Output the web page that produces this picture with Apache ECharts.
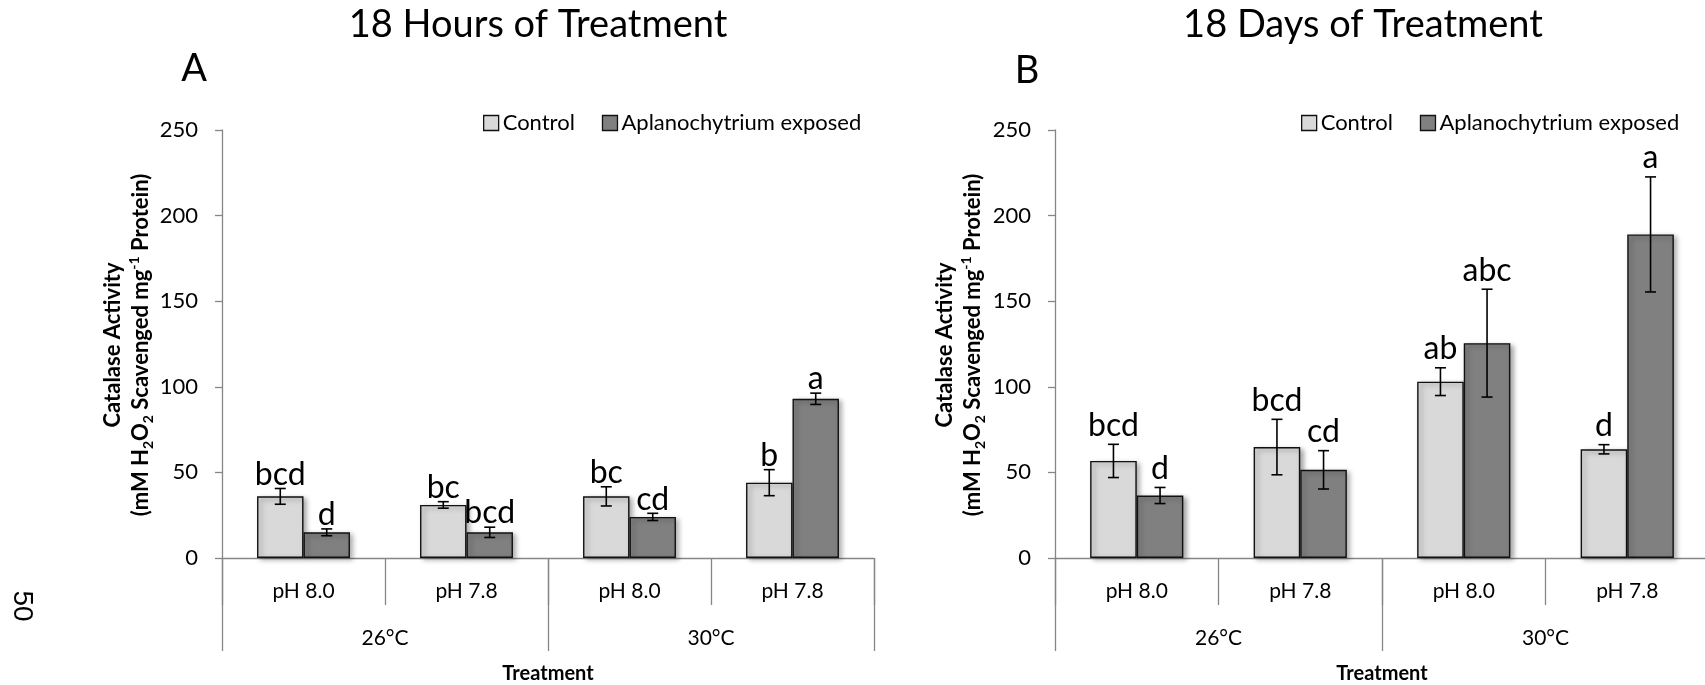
<!DOCTYPE html>
<html>
<head>
<meta charset="utf-8">
<title>Catalase Activity</title>
<script src="https://cdn.jsdelivr.net/npm/echarts@6/dist/echarts.min.js"></script>
<style>
  html, body { margin: 0; padding: 0; background: #fff; }
  #chart { width: 1705px; height: 685px; }
</style>
</head>
<body>
<div id="chart"></div>
<script>
// ---- data ----
const phLabels = ['pH 8.0', 'pH 7.8', 'pH 8.0', 'pH 7.8'];
const tempLabels = ['26°C', '30°C'];
const seriesNames = ['Control', 'Aplanochytrium exposed'];
const yTicks = [0, 50, 100, 150, 200, 250];

// 18 hours of treatment
const hoursControl = [36, 31, 36, 44];
const hoursControlErr = [4.6, 1.9, 5.6, 7.6];
const hoursControlLetters = ['bcd', 'bc', 'bc', 'b'];
const hoursExposed = [15, 15, 24, 93];
const hoursExposedErr = [2, 3, 2.1, 3.3];
const hoursExposedLetters = ['d', 'bcd', 'cd', 'a'];

// 18 days of treatment
const daysControl = [56.7, 64.8, 103, 63.5];
const daysControlErr = [9.7, 16.2, 8.1, 2.7];
const daysControlLetters = ['bcd', 'bcd', 'ab', 'd'];
const daysExposed = [36.5, 51.5, 125.5, 189];
const daysExposedErr = [4.7, 11.2, 31.5, 33.6];
const daysExposedLetters = ['d', 'cd', 'abc', 'a'];

// ---- styling ----
const FONT = 'Lato';
const AXIS_GRAY = '#868686';
const CAT_GAP = 0.43;
const colors = ['#d9d9d9', '#808080'];

const chart = echarts.init(document.getElementById('chart'), null, { renderer: 'canvas' });

const grids = [
  { left: 222, top: 130, width: 652, height: 428, outerBoundsMode: 'none', containLabel: false },
  { left: 1055, top: 130, width: 654, height: 428, outerBoundsMode: 'none', containLabel: false }
];

function phAxis(g) {
  return {
    type: 'category', gridIndex: g, data: phLabels, position: 'bottom',
    axisLine: { show: true, lineStyle: { color: AXIS_GRAY, width: 1.3 } },
    axisTick: { show: true, length: 47, lineStyle: { color: AXIS_GRAY, width: 1.3 } },
    axisLabel: { margin: 23, color: '#000', fontFamily: FONT, fontSize: 21 },
    splitLine: { show: false }
  };
}
function tempAxis(g) {
  return {
    type: 'category', gridIndex: g, data: tempLabels, position: 'bottom',
    axisLine: { show: false },
    axisTick: { show: true, length: 93, lineStyle: { color: AXIS_GRAY, width: 1.3 } },
    axisLabel: { margin: 70, color: '#000', fontFamily: FONT, fontSize: 21 },
    name: 'Treatment', nameLocation: 'middle', nameGap: 106,
    nameTextStyle: { color: '#000', fontFamily: FONT, fontSize: 20, fontWeight: 'bold' },
    splitLine: { show: false }
  };
}
function valAxis(g) {
  return {
    type: 'value', gridIndex: g, min: yTicks[0], max: yTicks[yTicks.length - 1],
    interval: yTicks[1] - yTicks[0],
    axisLine: { show: true, lineStyle: { color: AXIS_GRAY, width: 1.3 } },
    axisTick: { show: true, length: 7, lineStyle: { color: AXIS_GRAY, width: 1.3 } },
    axisLabel: { margin: 24, color: '#000', fontFamily: FONT, fontSize: 22 },
    splitLine: { show: false }
  };
}

function barSeries(g, idx, values) {
  return {
    type: 'bar', name: seriesNames[idx], xAxisIndex: g * 2, yAxisIndex: g,
    data: values, barGap: '0%', barCategoryGap: (CAT_GAP * 100) + '%',
    itemStyle: {
      color: colors[idx], borderColor: '#111', borderWidth: 1.4,
      shadowBlur: 5, shadowColor: 'rgba(0,0,0,0.35)', shadowOffsetX: 3, shadowOffsetY: 2
    },
    z: 2
  };
}

// error bars and significance letters, placed over the matching bar
function errSeries(g, side, values, errs, letters, gap) {
  return {
    type: 'custom', xAxisIndex: g * 2, yAxisIndex: g, silent: true, z: 5,
    data: values.map((v, i) => [i, v, errs[i]]),
    encode: { x: 0, y: 1 },
    renderItem(params, api) {
      const i = api.value(0), m = api.value(1), e = api.value(2);
      const c = api.coord([i, m]);
      const bw = api.size([1, 0])[0] * (1 - CAT_GAP) / 2;
      const x = c[0] + side * bw / 2;
      const yt = api.coord([i, m + e])[1];
      const yb = api.coord([i, m - e])[1];
      const cap = 5.5;
      const ls = { stroke: '#000', lineWidth: 1.6 };
      return {
        type: 'group',
        children: [
          { type: 'line', shape: { x1: x, y1: yt, x2: x, y2: yb }, style: ls },
          { type: 'line', shape: { x1: x - cap, y1: yt, x2: x + cap, y2: yt }, style: ls },
          { type: 'line', shape: { x1: x - cap, y1: yb, x2: x + cap, y2: yb }, style: ls },
          {
            type: 'text', x: x, y: yt - gap,
            style: {
              text: letters[params.dataIndex], fill: '#000',
              font: '32px ' + FONT, align: 'center', verticalAlign: 'bottom'
            }
          }
        ]
      };
    }
  };
}

function legendFor(left) {
  return {
    left: left, top: 107, orient: 'horizontal', data: seriesNames,
    icon: 'rect', itemWidth: 15, itemHeight: 15, itemGap: 27,
    textStyle: { color: '#000', fontFamily: FONT, fontSize: 22, padding: [0, 0, 0, -1] },
    itemStyle: { borderColor: '#111', borderWidth: 1.3, shadowBlur: 0, shadowOffsetX: 0, shadowOffsetY: 0, shadowColor: 'rgba(0,0,0,0)' },
    selectedMode: false
  };
}

const yTitleRich = {
  n: { fontFamily: FONT, fontWeight: 'bold', fontSize: 22, color: '#000', lineHeight: 28 },
  s: { fontFamily: FONT, fontWeight: 'bold', fontSize: 14, color: '#000', verticalAlign: 'bottom', lineHeight: 28 },
  p: { fontFamily: FONT, fontWeight: 'bold', fontSize: 14, color: '#000', verticalAlign: 'top', lineHeight: 28 }
};
const yTitleLine2 = '{n|(mM H}{s|2}{n|O}{s|2}{n| Scavenged mg}{p|-1}{n| Protein)}';

function yTitle(x1, x2, y) {
  return [
    {
      type: 'text', x: x1, y: y, rotation: Math.PI / 2,
      style: { text: 'Catalase Activity', font: 'bold 22px ' + FONT, fill: '#000', align: 'center', verticalAlign: 'middle' }
    },
    {
      type: 'text', x: x2, y: y, rotation: Math.PI / 2,
      style: { text: yTitleLine2, rich: yTitleRich, fill: '#000', align: 'center', verticalAlign: 'middle' }
    }
  ];
}

function plainText(text, x, y, size) {
  return {
    type: 'text', x: x, y: y,
    style: { text: text, font: size + 'px ' + FONT, fill: '#000', align: 'center', verticalAlign: 'middle' }
  };
}

const option = {
  animation: false,
  backgroundColor: '#fff',
  grid: grids,
  xAxis: [phAxis(0), tempAxis(0), phAxis(1), tempAxis(1)],
  yAxis: [valAxis(0), valAxis(1)],
  legend: [legendFor(478), legendFor(1296)],
  series: [
    barSeries(0, 0, hoursControl),
    barSeries(0, 1, hoursExposed),
    barSeries(1, 0, daysControl),
    barSeries(1, 1, daysExposed),
    errSeries(0, -1, hoursControl, hoursControlErr, hoursControlLetters, -2),
    errSeries(0, 1, hoursExposed, hoursExposedErr, hoursExposedLetters, -2),
    errSeries(1, -1, daysControl, daysControlErr, daysControlLetters, 3),
    errSeries(1, 1, daysExposed, daysExposedErr, daysExposedLetters, 3)
  ],
  graphic: [
    plainText('18 Hours of Treatment', 538, 25, 38),
    plainText('18 Days of Treatment', 1363, 25, 38),
    plainText('A', 194, 69, 38),
    plainText('B', 1027, 71, 38),
    {
      type: 'text', x: 22, y: 606, rotation: -Math.PI / 2,
      style: { text: '50', font: '28px "Liberation Sans"', fill: '#000', align: 'center', verticalAlign: 'middle' }
    }
  ].concat(yTitle(112.5, 141, 345), yTitle(945, 973, 345))
};

chart.setOption(option);
</script>
</body>
</html>
